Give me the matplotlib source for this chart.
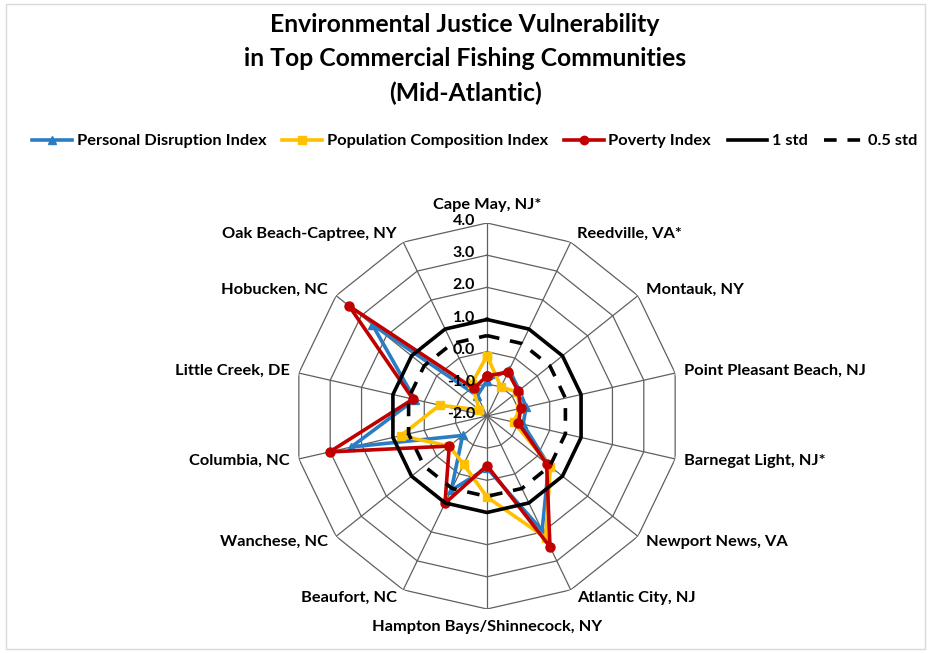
import numpy as np
import matplotlib
matplotlib.use("Agg")
import matplotlib.pyplot as plt
from matplotlib.lines import Line2D
from matplotlib.patches import Rectangle

plt.rcParams['font.family'] = ['Lato', 'DejaVu Sans']
plt.rcParams['font.weight'] = 'bold'

# data
categories = ["Cape May, NJ*", "Reedville, VA*", "Montauk, NY", "Point Pleasant Beach, NJ",
              "Barnegat Light, NJ*", "Newport News, VA", "Atlantic City, NJ",
              "Hampton Bays/Shinnecock, NY", "Beaufort, NC", "Wanchese, NC", "Columbia, NC",
              "Little Creek, DE", "Hobucken, NC", "Oak Beach-Captree, NY"]
personal = [-0.9, -0.4, -0.72, -0.75, -0.85, 0.45, 1.95, -0.38, 0.56, -1.03, 2.33, 0.3, 2.56, -1.3]
population = [-0.12, -1.0, -0.8, -0.95, -1.15, 0.52, 2.2, 0.52, -0.33, -0.5, 0.75, -0.49, -1.7, -0.9]
poverty = [-0.75, -0.49, -0.76, -0.92, -1.0, 0.37, 2.51, -0.46, 1.01, -0.5, 3.02, 0.36, 3.48, -1.05]
std1 = [1.0] * len(categories)
std05 = [0.5] * len(categories)
rticks = [-2, -1, 0, 1, 2, 3, 4]

n = len(categories)
theta = np.arange(n) * 2 * np.pi / n
tc = np.append(theta, theta[0])

def closed(v):
    return list(v) + [v[0]]

fig = plt.figure(figsize=(9.31, 6.53), dpi=100)
fig.patches.append(Rectangle((0.006, 0.006), 0.988, 0.988, transform=fig.transFigure,
                             fill=False, edgecolor='#d9d9d9', lw=1))

cx, cy, R = 487 / 931, 1 - 416 / 653, 193
ax = fig.add_axes([cx - R / 931, cy - R / 653, 2 * R / 931, 2 * R / 653], projection='polar')
ax.set_theta_zero_location('N')
ax.set_theta_direction(-1)
ax.set_ylim(-2, 4)
ax.grid(False)
ax.set_xticks([])
ax.set_yticks([])
ax.spines['polar'].set_visible(False)
ax.patch.set_alpha(0)

# polygon grid
for r in rticks[1:]:
    ax.plot(tc, [r] * (n + 1), color='#606060', lw=0.9, zorder=1)
for t in theta:
    ax.plot([t, t], [-2, 4], color='#606060', lw=0.9, zorder=1)

ax.plot(tc, closed(personal), color='#2A7DC4', lw=2.6, marker='^', ms=6, zorder=3, clip_on=False)
ax.plot(tc, closed(population), color='#FFC000', lw=2.6, marker='s', ms=6, zorder=4, clip_on=False)
ax.plot(tc, closed(poverty), color='#C00000', lw=2.6, marker='o', ms=6.5, zorder=5, clip_on=False)
ax.plot(tc, closed(std1), color='black', lw=2.6, zorder=6)
ax.plot(tc, closed(std05), color='black', lw=2.6, ls=(0, (3.5, 3)), zorder=6)

for r in rticks:
    ax.annotate(f"{r:.1f}", (0, r), xytext=(-12, 2), textcoords='offset pixels',
                ha='right', va='center', fontsize=11.5, fontweight='bold', zorder=7)

for t, lab in zip(theta, categories):
    s, c = np.sin(t), np.cos(t)
    if abs(s) < 1e-6:
        ha = 'center'
        va = 'bottom' if c > 0 else 'top'
        off = (0, 11 if c > 0 else -11)
    else:
        ha = 'left' if s > 0 else 'right'
        va = 'center'
        off = (np.sign(s) * (4 + 5 * abs(s)), 9 * c)
    ax.annotate(lab, (t, 4), xytext=off, textcoords='offset pixels', ha=ha, va=va,
                fontsize=11.8, fontweight='bold', annotation_clip=False)

fig.text(465 / 931, 1 - 59 / 653,
         "Environmental Justice Vulnerability\nin Top Commercial Fishing Communities\n(Mid-Atlantic)",
         ha='center', va='center', fontsize=17.8, fontweight='bold', linespacing=1.6)

handles = [
    Line2D([], [], color='#2A7DC4', lw=2.6, marker='^', ms=6),
    Line2D([], [], color='#FFC000', lw=2.6, marker='s', ms=6),
    Line2D([], [], color='#C00000', lw=2.6, marker='o', ms=6),
    Line2D([], [], color='black', lw=2.6),
    Line2D([], [], color='black', lw=2.6, ls=(0, (3.5, 3))),
]
labels = ["Personal Disruption Index", "Population Composition Index", "Poverty Index", "1 std", "0.5 std"]
fig.legend(handles, labels, loc='center', bbox_to_anchor=(475 / 931, 1 - 141 / 653), ncol=5,
           frameon=False, handlelength=2.4, handletextpad=0.3, columnspacing=1.0,
           prop={'size': 11.8, 'weight': 'bold'})

fig.savefig("out.png", dpi=100)
